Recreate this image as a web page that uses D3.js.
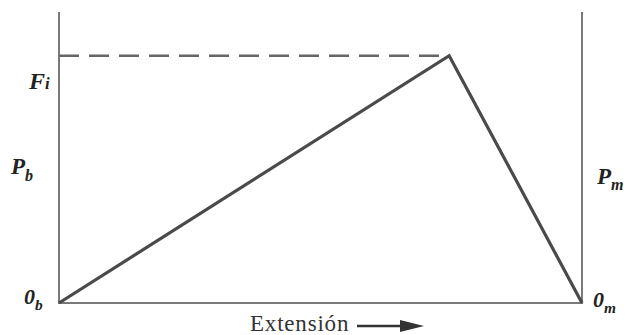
<!DOCTYPE html>
<html>
<head>
<meta charset="utf-8">
<script src="https://cdn.jsdelivr.net/npm/d3@7"></script>
<style>
  body { margin: 0; background: #fff; }
  svg { display: block; }
</style>
</head>
<body>
<svg id="chart"></svg>
<script>
// joint diagram: extension vs. load (relative units)
const extension = [0, 74.6, 100];
const force = [0, 85, 0];
const preload = 85;   // F_i
const yMax = 100;

const width = 629, height = 335;
const margin = { top: 12, right: 47, bottom: 32, left: 59 };
const serif = 'Liberation Serif, Tinos, Times New Roman, Times, serif';

const svg = d3.select('#chart')
    .attr('width', width)
    .attr('height', height);

const xScale = d3.scaleLinear()
    .domain([0, 100])
    .range([margin.left, width - margin.right]);

const yScale = d3.scaleLinear()
    .domain([0, yMax])
    .range([height - margin.bottom, margin.top]);

const points = extension.map((e, i) => ({ e: e, f: force[i] }));

// axes: left (bolt), right (member), bottom
const axisColor = '#7a7a7a';
svg.append('line')
    .attr('x1', xScale(0)).attr('x2', xScale(0))
    .attr('y1', yScale(yMax)).attr('y2', yScale(0))
    .attr('stroke', axisColor).attr('stroke-width', 2);
svg.append('line')
    .attr('x1', xScale(100)).attr('x2', xScale(100))
    .attr('y1', yScale(yMax)).attr('y2', yScale(0))
    .attr('stroke', axisColor).attr('stroke-width', 2);
svg.append('line')
    .attr('x1', xScale(0) - 1).attr('x2', xScale(100) + 1)
    .attr('y1', yScale(0)).attr('y2', yScale(0))
    .attr('stroke', axisColor).attr('stroke-width', 2);

// dashed preload line
svg.append('line')
    .attr('x1', xScale(0)).attr('x2', xScale(extension[1]))
    .attr('y1', yScale(preload)).attr('y2', yScale(preload))
    .attr('stroke', '#666').attr('stroke-width', 2.5)
    .attr('stroke-dasharray', '20,10');

// bolt / member lines
const line = d3.line()
    .x(d => xScale(d.e))
    .y(d => yScale(d.f));

svg.append('path')
    .datum(points)
    .attr('d', line)
    .attr('fill', 'none')
    .attr('stroke', '#4a4a4a')
    .attr('stroke-width', 3.2)
    .attr('stroke-linejoin', 'miter');

// labels
function subLabel(x, y, main, sub, size, subDy) {
    const t = svg.append('text')
        .attr('x', x).attr('y', y)
        .attr('font-family', serif)
        .attr('fill', '#222')
        .attr('font-size', size)
        .attr('font-weight', 'bold')
        .attr('font-style', 'italic');
    t.append('tspan').text(main);
    t.append('tspan')
        .attr('dy', subDy)
        .attr('font-size', size * 0.7)
        .text(sub);
    return t;
}

subLabel(29, 89, 'F', 'i', 24, 0);
subLabel(11, 174, 'P', 'b', 23, 7);
subLabel(597, 184, 'P', 'm', 23, 6);
subLabel(24, 304, '0', 'b', 22, 6);
subLabel(593, 307, '0', 'm', 22, 6);

// x label with arrow
svg.append('text')
    .attr('x', 250).attr('y', 331)
    .attr('font-family', serif)
    .attr('fill', '#333')
    .attr('font-size', 23)
    .attr('letter-spacing', 0.8)
    .text('Extensión');

svg.append('line')
    .attr('x1', 357).attr('x2', 405)
    .attr('y1', 326).attr('y2', 326)
    .attr('stroke', '#333').attr('stroke-width', 2.5);

svg.append('path')
    .attr('d', 'M400,320 L424,326 L400,332 Z')
    .attr('fill', '#333');
</script>
</body>
</html>
